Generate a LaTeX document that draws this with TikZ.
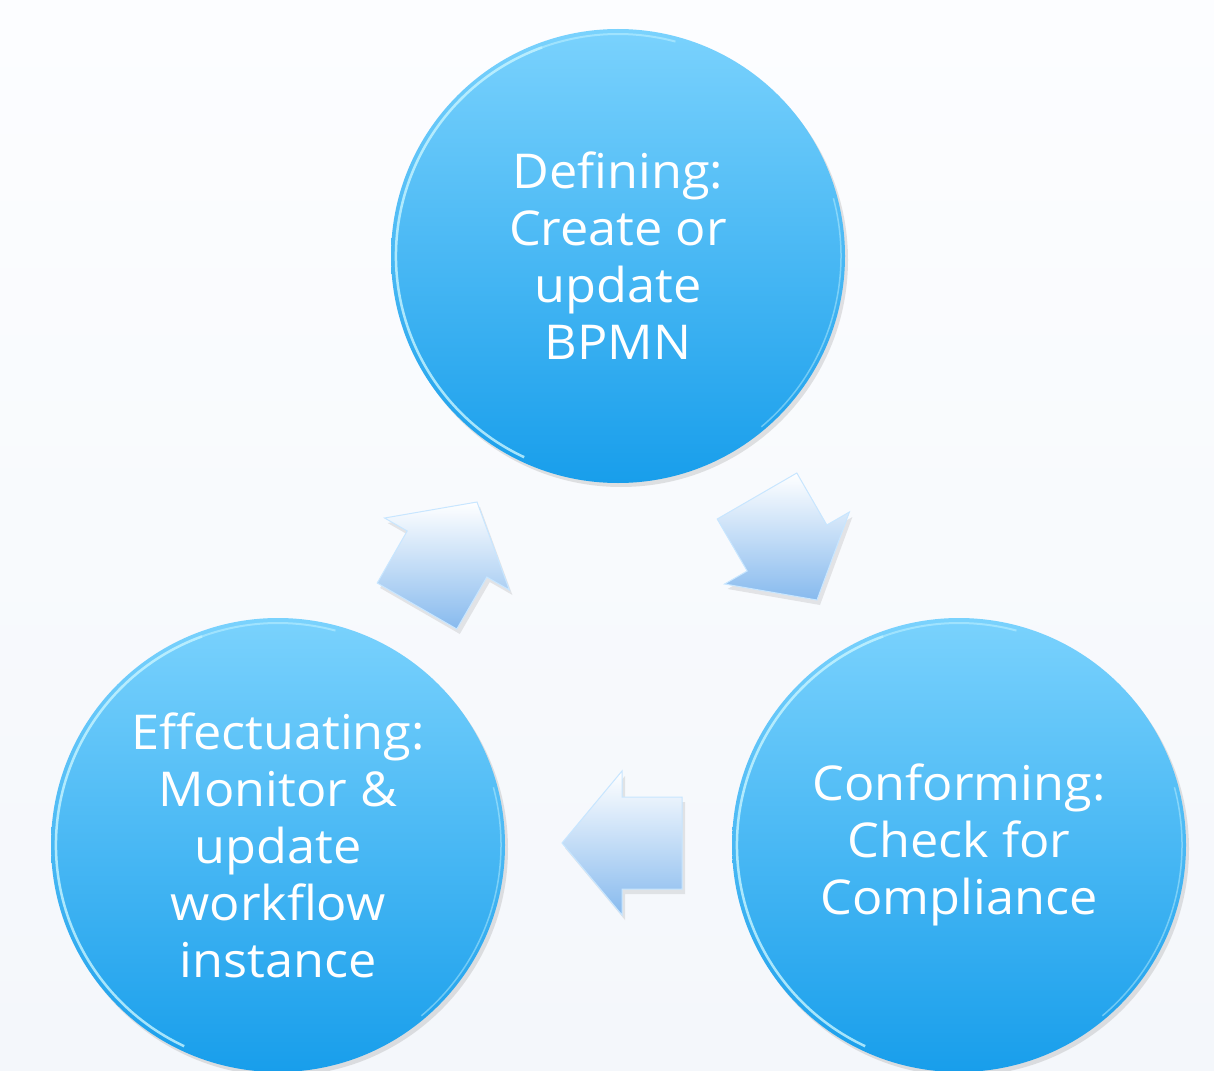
\documentclass[tikz,border=0pt]{standalone}
\usepackage{fontspec}
\setmainfont[FakeStretch=1.05]{Open Sans}
\usetikzlibrary{shadows}
\definecolor{bgtop}{RGB}{252,253,255}
\definecolor{bgbot}{RGB}{244,247,251}
\definecolor{ctop}{RGB}{122,210,253}
\definecolor{cbot}{RGB}{24,158,235}
\definecolor{atop}{RGB}{255,255,255}
\definecolor{abot}{RGB}{135,186,238}
\definecolor{aedge}{RGB}{200,230,255}
\definecolor{rimc}{RGB}{200,245,255}
\tikzset{
  bubble/.style={circle, minimum size=454pt, inner sep=0pt, top color=ctop, bottom color=cbot,
    text=white, align=center, font=\fontsize{48}{57}\selectfont,
    drop shadow={opacity=0.22, shadow xshift=3pt, shadow yshift=-4pt}},
  blockarrow/.style={top color=atop, bottom color=abot, draw=aedge, line width=1pt, line join=miter,
    drop shadow={opacity=0.18, shadow xshift=3pt, shadow yshift=-5pt}},
  rim/.style={rimc, opacity=0.8, line width=2.5pt}
}
\begin{document}
\begin{tikzpicture}[x=1pt,y=-1pt]
\useasboundingbox (0,0) rectangle (1214,1070);
\clip (0,0) rectangle (1214,1070);
\shade[top color=bgtop, bottom color=bgbot] (0,0) rectangle (1214,1070);

% circles
\node[bubble] (def) at (618,256) {Defining:\\Create or\\update\\BPMN};
\node[bubble] (eff) at (278,845) {Effectuating:\\Monitor \&\\update\\workflow\\instance};
\node[bubble] (con) at (959,845) {Conforming:\\Check for\\Compliance};

% rim highlights
\foreach \c in {def,eff,con}{
  \draw[rim] ([shift={(110:222pt)}]\c.center) arc[start angle=110, end angle=245, radius=222pt];
  \draw[rimc, opacity=0.5, line width=2pt] ([shift={(75:222pt)}]\c.center) arc[start angle=75, end angle=110, radius=222pt];
  \draw[rimc, opacity=0.45, line width=1.5pt] ([shift={(15:223pt)}]\c.center) arc[start angle=15, end angle=-50, radius=223pt];
}

% block arrows
\path[blockarrow] (477,502) -- (509.4,590) -- (486.8,577) -- (456.8,629) -- (377.2,583) -- (407.2,531) -- (384.6,518) -- cycle;
\path[blockarrow] (817,600) -- (724.6,584) -- (747.2,571) -- (717.2,519) -- (796.8,473) -- (826.8,525) -- (849.4,512) -- cycle;
\path[blockarrow] (562,843) -- (622,771) -- (622,797) -- (682,797) -- (682,889) -- (622,889) -- (622,915) -- cycle;
\end{tikzpicture}
\end{document}
